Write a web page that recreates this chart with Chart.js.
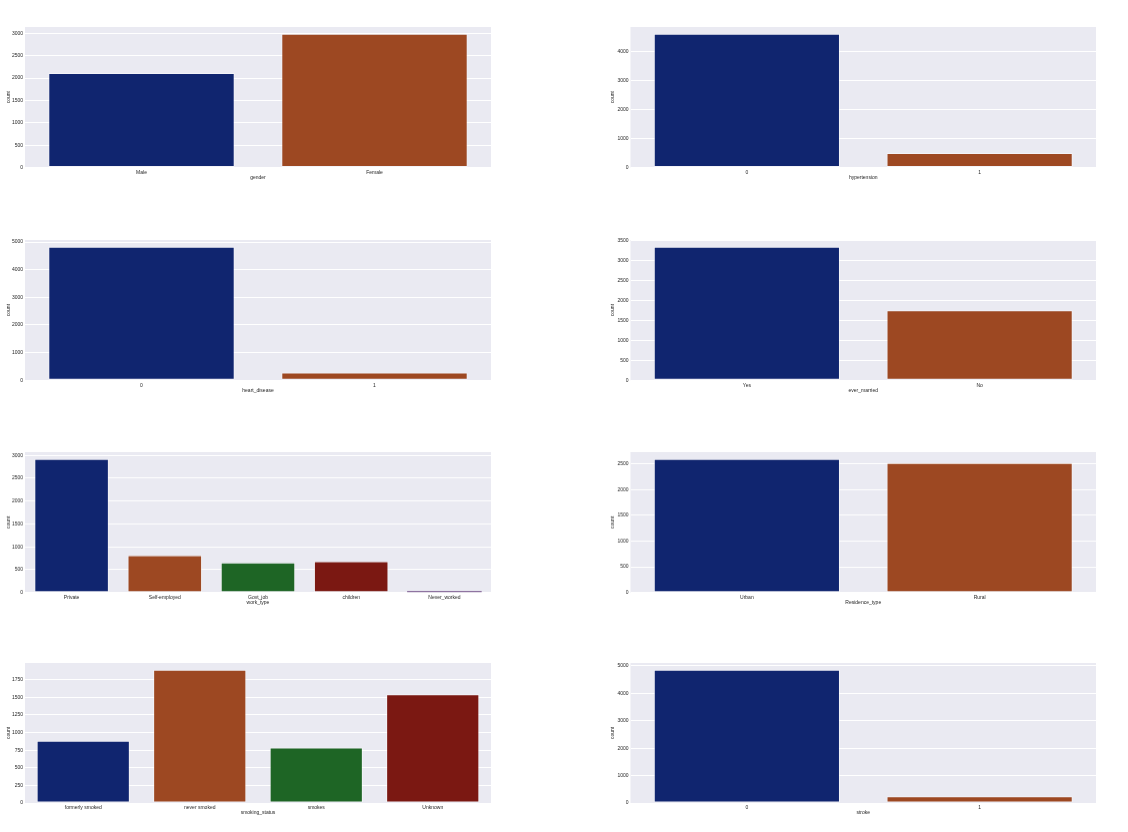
<!DOCTYPE html>
<html>
<head>
<meta charset="utf-8">
<script src="https://cdn.jsdelivr.net/npm/chart.js@4/dist/chart.umd.min.js"></script>
<style>
  html, body { margin: 0; padding: 0; background: #ffffff; }
  body { width: 1128px; height: 832px; position: relative; overflow: hidden; }
  .cell { position: absolute; }
</style>
</head>
<body>
<script>
// ---- data ----
const genderLabels = ['Male', 'Female'];
const genderCounts = [2115, 2994];

const hypertensionLabels = ['0', '1'];
const hypertensionCounts = [4612, 498];

const heartDiseaseLabels = ['0', '1'];
const heartDiseaseCounts = [4834, 276];

const everMarriedLabels = ['Yes', 'No'];
const everMarriedCounts = [3353, 1757];

const workTypeLabels = ['Private', 'Self-employed', 'Govt_job', 'children', 'Never_worked'];
const workTypeCounts = [2925, 819, 657, 687, 22];

const residenceLabels = ['Urban', 'Rural'];
const residenceCounts = [2596, 2514];

const smokingLabels = ['formerly smoked', 'never smoked', 'smokes', 'Unknown'];
const smokingCounts = [885, 1892, 789, 1544];

const strokeLabels = ['0', '1'];
const strokeCounts = [4861, 249];

// y tick steps per panel
const genderStep = 500, hypertensionStep = 1000, heartDiseaseStep = 1000, everMarriedStep = 500;
const workTypeStep = 500, residenceStep = 500, smokingStep = 250, strokeStep = 1000;

// ---- style / layout ----
const palette = ['#10256f', '#9d4822', '#1e6525', '#7b1812', '#6a4480'];
const FONT = '"Liberation Sans", Arial, "DejaVu Sans", sans-serif';
const TEXT = '#262626';

const cols = [
  { l: 25, r: 491, cl: 0, yPad: 5.5 },
  { l: 630.5, r: 1096, cl: 600, yPad: 10 }
];
const rows = [
  { t: 25.5, b: 167 },
  { t: 238.5, b: 379.7 },
  { t: 451, b: 591.7 },
  { t: 662.3, b: 803.3 }
];

const panels = [
  ['gender', genderLabels, genderCounts, genderStep],
  ['hypertension', hypertensionLabels, hypertensionCounts, hypertensionStep],
  ['heart_disease', heartDiseaseLabels, heartDiseaseCounts, heartDiseaseStep],
  ['ever_married', everMarriedLabels, everMarriedCounts, everMarriedStep],
  ['work_type', workTypeLabels, workTypeCounts, workTypeStep],
  ['Residence_type', residenceLabels, residenceCounts, residenceStep],
  ['smoking_status', smokingLabels, smokingCounts, smokingStep],
  ['stroke', strokeLabels, strokeCounts, strokeStep]
];

const bgPlugin = {
  id: 'axesBg',
  beforeDraw(chart) {
    const a = chart.chartArea;
    const ctx = chart.ctx;
    ctx.save();
    ctx.fillStyle = '#EAEAF2';
    ctx.fillRect(a.left, a.top, a.right - a.left, a.bottom - a.top);
    ctx.restore();
  }
};

const PAD_T = 4, PAD_R = 4, XH = 14;

panels.forEach((p, i) => {
  const [name, labels, values, step] = p;
  const col = cols[i % 2];
  const row = rows[Math.floor(i / 2)];
  const div = document.createElement('div');
  div.className = 'cell';
  const left = col.cl, top = row.t - PAD_T;
  const width = col.r + PAD_R - left;
  const height = row.b + XH - top;
  div.style.left = left + 'px';
  div.style.top = top + 'px';
  div.style.width = width + 'px';
  div.style.height = height + 'px';
  const canvas = document.createElement('canvas');
  div.appendChild(canvas);
  document.body.appendChild(div);
  const yW = col.l - col.cl;
  const maxV = Math.max(...values) * 1.05;

  new Chart(canvas, {
    type: 'bar',
    data: {
      labels: labels,
      datasets: [{
        data: values,
        backgroundColor: labels.map((_, k) => palette[k % palette.length]),
        borderColor: 'rgba(255,255,255,0.45)',
        borderWidth: values.map(v => (v / maxV < 0.02 ? 0 : 1)),
        borderSkipped: false,
        categoryPercentage: 0.8,
        barPercentage: 1.0,
        minBarLength: 1.5
      }]
    },
    options: {
      responsive: true,
      maintainAspectRatio: false,
      animation: false,
      layout: { padding: { top: PAD_T, right: PAD_R, left: 0, bottom: 0 } },
      plugins: { legend: { display: false }, tooltip: { enabled: false } },
      scales: {
        x: {
          offset: true,
          grid: { display: false, drawTicks: false },
          border: { display: false },
          ticks: { color: TEXT, font: { family: FONT, size: 5 }, padding: 2, maxRotation: 0, autoSkip: false },
          title: { display: true, text: name, color: TEXT, font: { family: FONT, size: 5 }, padding: { top: 0, bottom: 1 } },
          afterFit(scale) { scale.height = XH; }
        },
        y: {
          min: 0,
          max: maxV,
          grid: { color: '#ffffff', lineWidth: 1, drawTicks: false },
          border: { display: false },
          afterBuildTicks(scale) {
            const t = [];
            for (let v = 0; v <= maxV; v += step) t.push({ value: v });
            scale.ticks = t;
          },
          ticks: {
            color: TEXT,
            font: { family: FONT, size: 5 },
            padding: 2,
            callback: (v) => String(v)
          },
          title: { display: true, text: 'count', color: TEXT, font: { family: FONT, size: 5 }, padding: { top: col.yPad, bottom: 0 } },
          afterFit(scale) { scale.width = yW; }
        }
      }
    },
    plugins: [bgPlugin]
  });
});
</script>
</body>
</html>
